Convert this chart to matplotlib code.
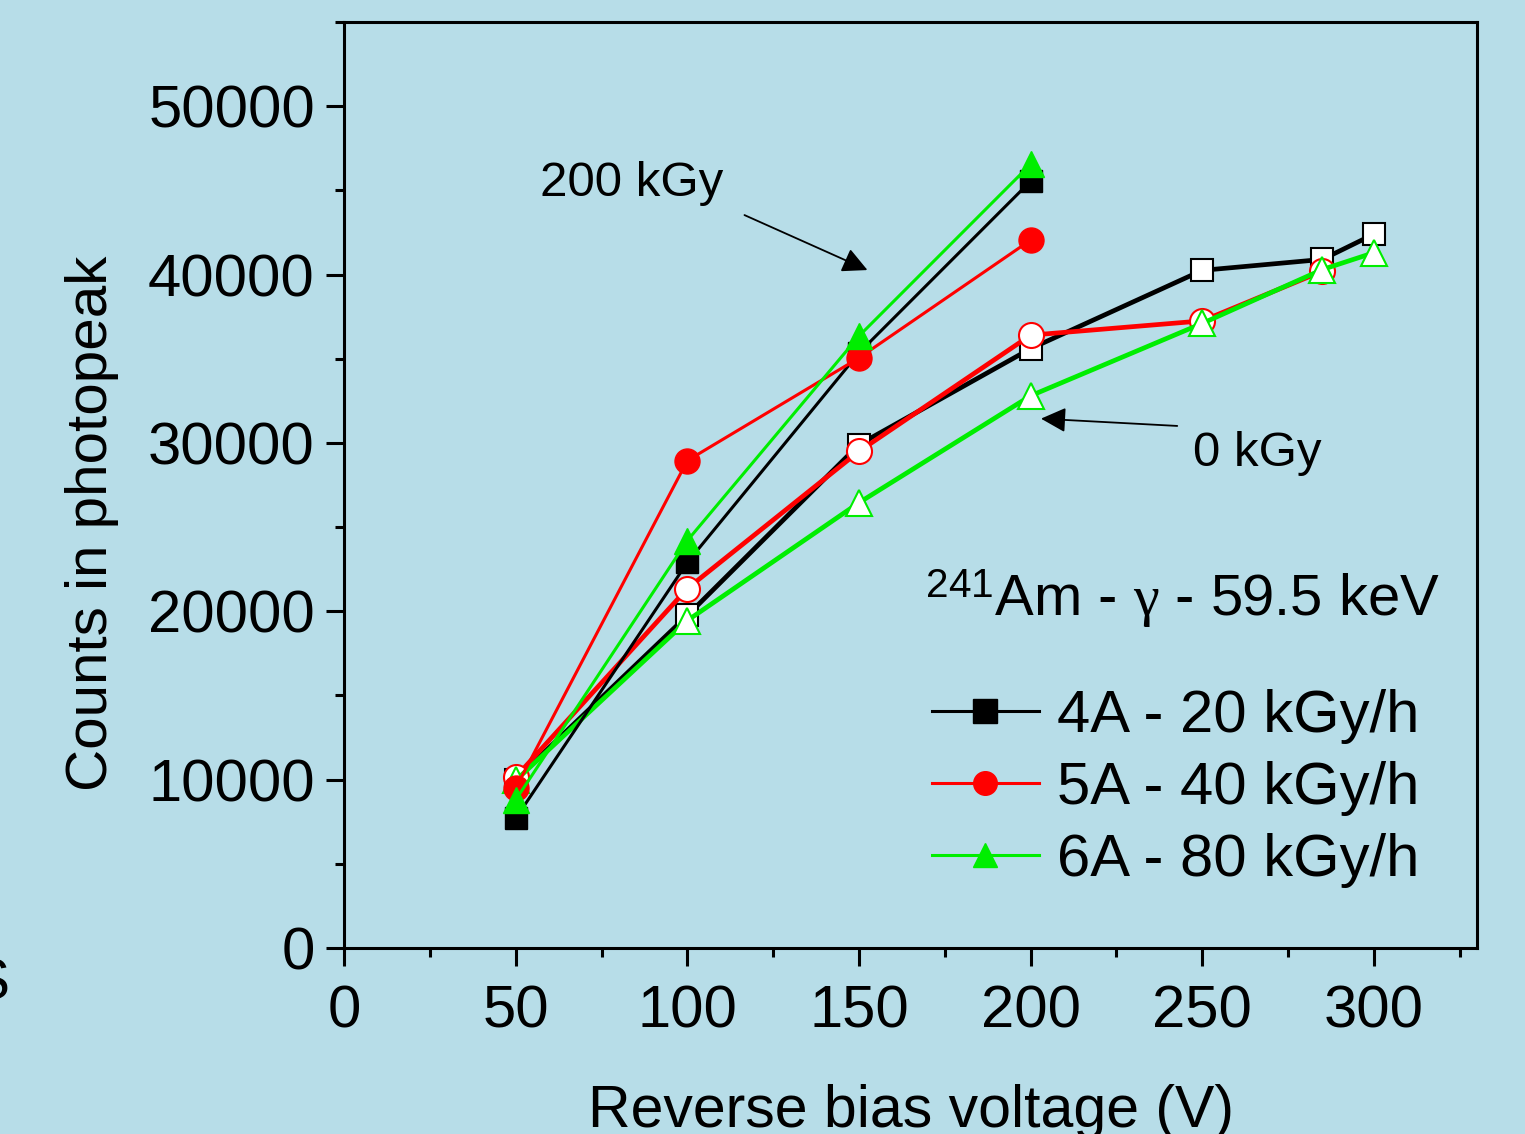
import matplotlib
matplotlib.use("Agg")
import matplotlib.pyplot as plt
from matplotlib.ticker import MultipleLocator

plt.rcParams['font.family'] = ['Liberation Sans', 'DejaVu Sans']
plt.rcParams['mathtext.fontset'] = 'custom'
plt.rcParams['mathtext.rm'] = 'Liberation Sans'
plt.rcParams['mathtext.it'] = 'Liberation Serif'

BG = '#B7DDE8'

# irradiated (200 kGy) - filled markers
v_irr = [50, 100, 150, 200]
c4a_irr = [7700, 22900, 35350, 45550]
c5a_irr = [9500, 28950, 35050, 42050]
c6a_irr = [8800, 24200, 36350, 46550]

# unirradiated (0 kGy) - open markers
v_0 = [50, 100, 150, 200, 250, 285, 300]
c4a_0 = [10000, 19750, 29900, 35600, 40250, 40900, 42400]
v_0_5a = [50, 100, 150, 200, 250, 285]
c5a_0 = [10150, 21350, 29500, 36400, 37250, 40200]
c6a_0 = [9950, 19450, 26450, 32800, 37100, 40300, 41300]

labels = ['4A - 20 kGy/h', '5A - 40 kGy/h', '6A - 80 kGy/h']
colors = ['black', '#FF0000', '#00EE00']

fig = plt.figure(figsize=(15.25, 11.34), dpi=100, facecolor=BG)
ax = fig.add_axes([0.2256, 0.164, 0.7429, 0.8166])
ax.set_facecolor(BG)

thick = 3.4
thin = 2.2
ms = 16

# open markers, thick lines
ax.plot(v_0, c4a_0, color=colors[0], lw=thick, marker='s', ms=ms,
        mfc='white', mec='black', mew=1.5, zorder=3)
ax.plot(v_0_5a, c5a_0, color=colors[1], lw=thick, marker='o', ms=ms + 2,
        mfc='white', mec=colors[1], mew=1.5, zorder=3)
ax.plot(v_0, c6a_0, color=colors[2], lw=thick, marker='^', ms=ms + 3,
        mfc='white', mec=colors[2], mew=1.5, zorder=3)

# filled markers, thin lines
h1, = ax.plot(v_irr, c4a_irr, color=colors[0], lw=thin, marker='s', ms=ms,
              mfc='black', mec='black', zorder=4, label=labels[0])
h2, = ax.plot(v_irr, c5a_irr, color=colors[1], lw=thin, marker='o', ms=ms + 2,
              mfc=colors[1], mec=colors[1], zorder=4, label=labels[1])
h3, = ax.plot(v_irr, c6a_irr, color=colors[2], lw=thin, marker='^', ms=ms + 3,
              mfc=colors[2], mec=colors[2], zorder=4, label=labels[2])

ax.set_xlim(0, 330)
ax.set_ylim(0, 55000)
ax.xaxis.set_major_locator(MultipleLocator(50))
ax.xaxis.set_minor_locator(MultipleLocator(25))
ax.yaxis.set_major_locator(MultipleLocator(10000))
ax.yaxis.set_minor_locator(MultipleLocator(5000))
ax.tick_params(which='both', direction='out', width=2.2, labelsize=43,
               top=False, right=False)
ax.tick_params(which='major', length=13)
ax.tick_params(which='minor', length=6.5)
ax.tick_params(axis='x', pad=13)
ax.tick_params(axis='y', pad=8)
for s in ax.spines.values():
    s.set_linewidth(2.2)

fig.text(911 / 1525, 0.0062, 'Reverse bias voltage (V)', fontsize=42.5,
         ha='center', va='baseline')
fig.text(92 / 1525, 1 - 523 / 1134, 'Counts in photopeak', fontsize=42,
         rotation=90, ha='center', va='center')

leg = ax.legend(handles=[h1, h2, h3], loc='lower right', frameon=False,
                fontsize=43, handlelength=1.8, handletextpad=0.3,
                labelspacing=0.28, borderaxespad=0.3,
                bbox_to_anchor=(0.986, 0.02))
for line in leg.get_lines():
    line.set_linewidth(2.2)
    line.set_markersize(17)

ax.text(169.2, 20760, r'$^{241}$Am - $\gamma$ - 59.5 keV',
        fontsize=41.8, va='center', ha='left')

ax.annotate('', xy=(153.2, 40200), xytext=(115.9, 43600),
            arrowprops=dict(arrowstyle='-|>', color='black', lw=1.3,
                            mutation_scale=38))
ax.text(57.1, 45400, '200 kGy', fontsize=35.5, va='center', ha='left')

ax.annotate('', xy=(202.2, 31450), xytext=(243.5, 31000),
            arrowprops=dict(arrowstyle='-|>', color='black', lw=1.3,
                            mutation_scale=38))
ax.text(247.3, 29350, '0 kGy', fontsize=35.5, va='center', ha='left')

fig.text(-0.006, 0.132, 'S', fontsize=41, ha='center', va='center')

fig.savefig('out.png', dpi=100, facecolor=BG)
